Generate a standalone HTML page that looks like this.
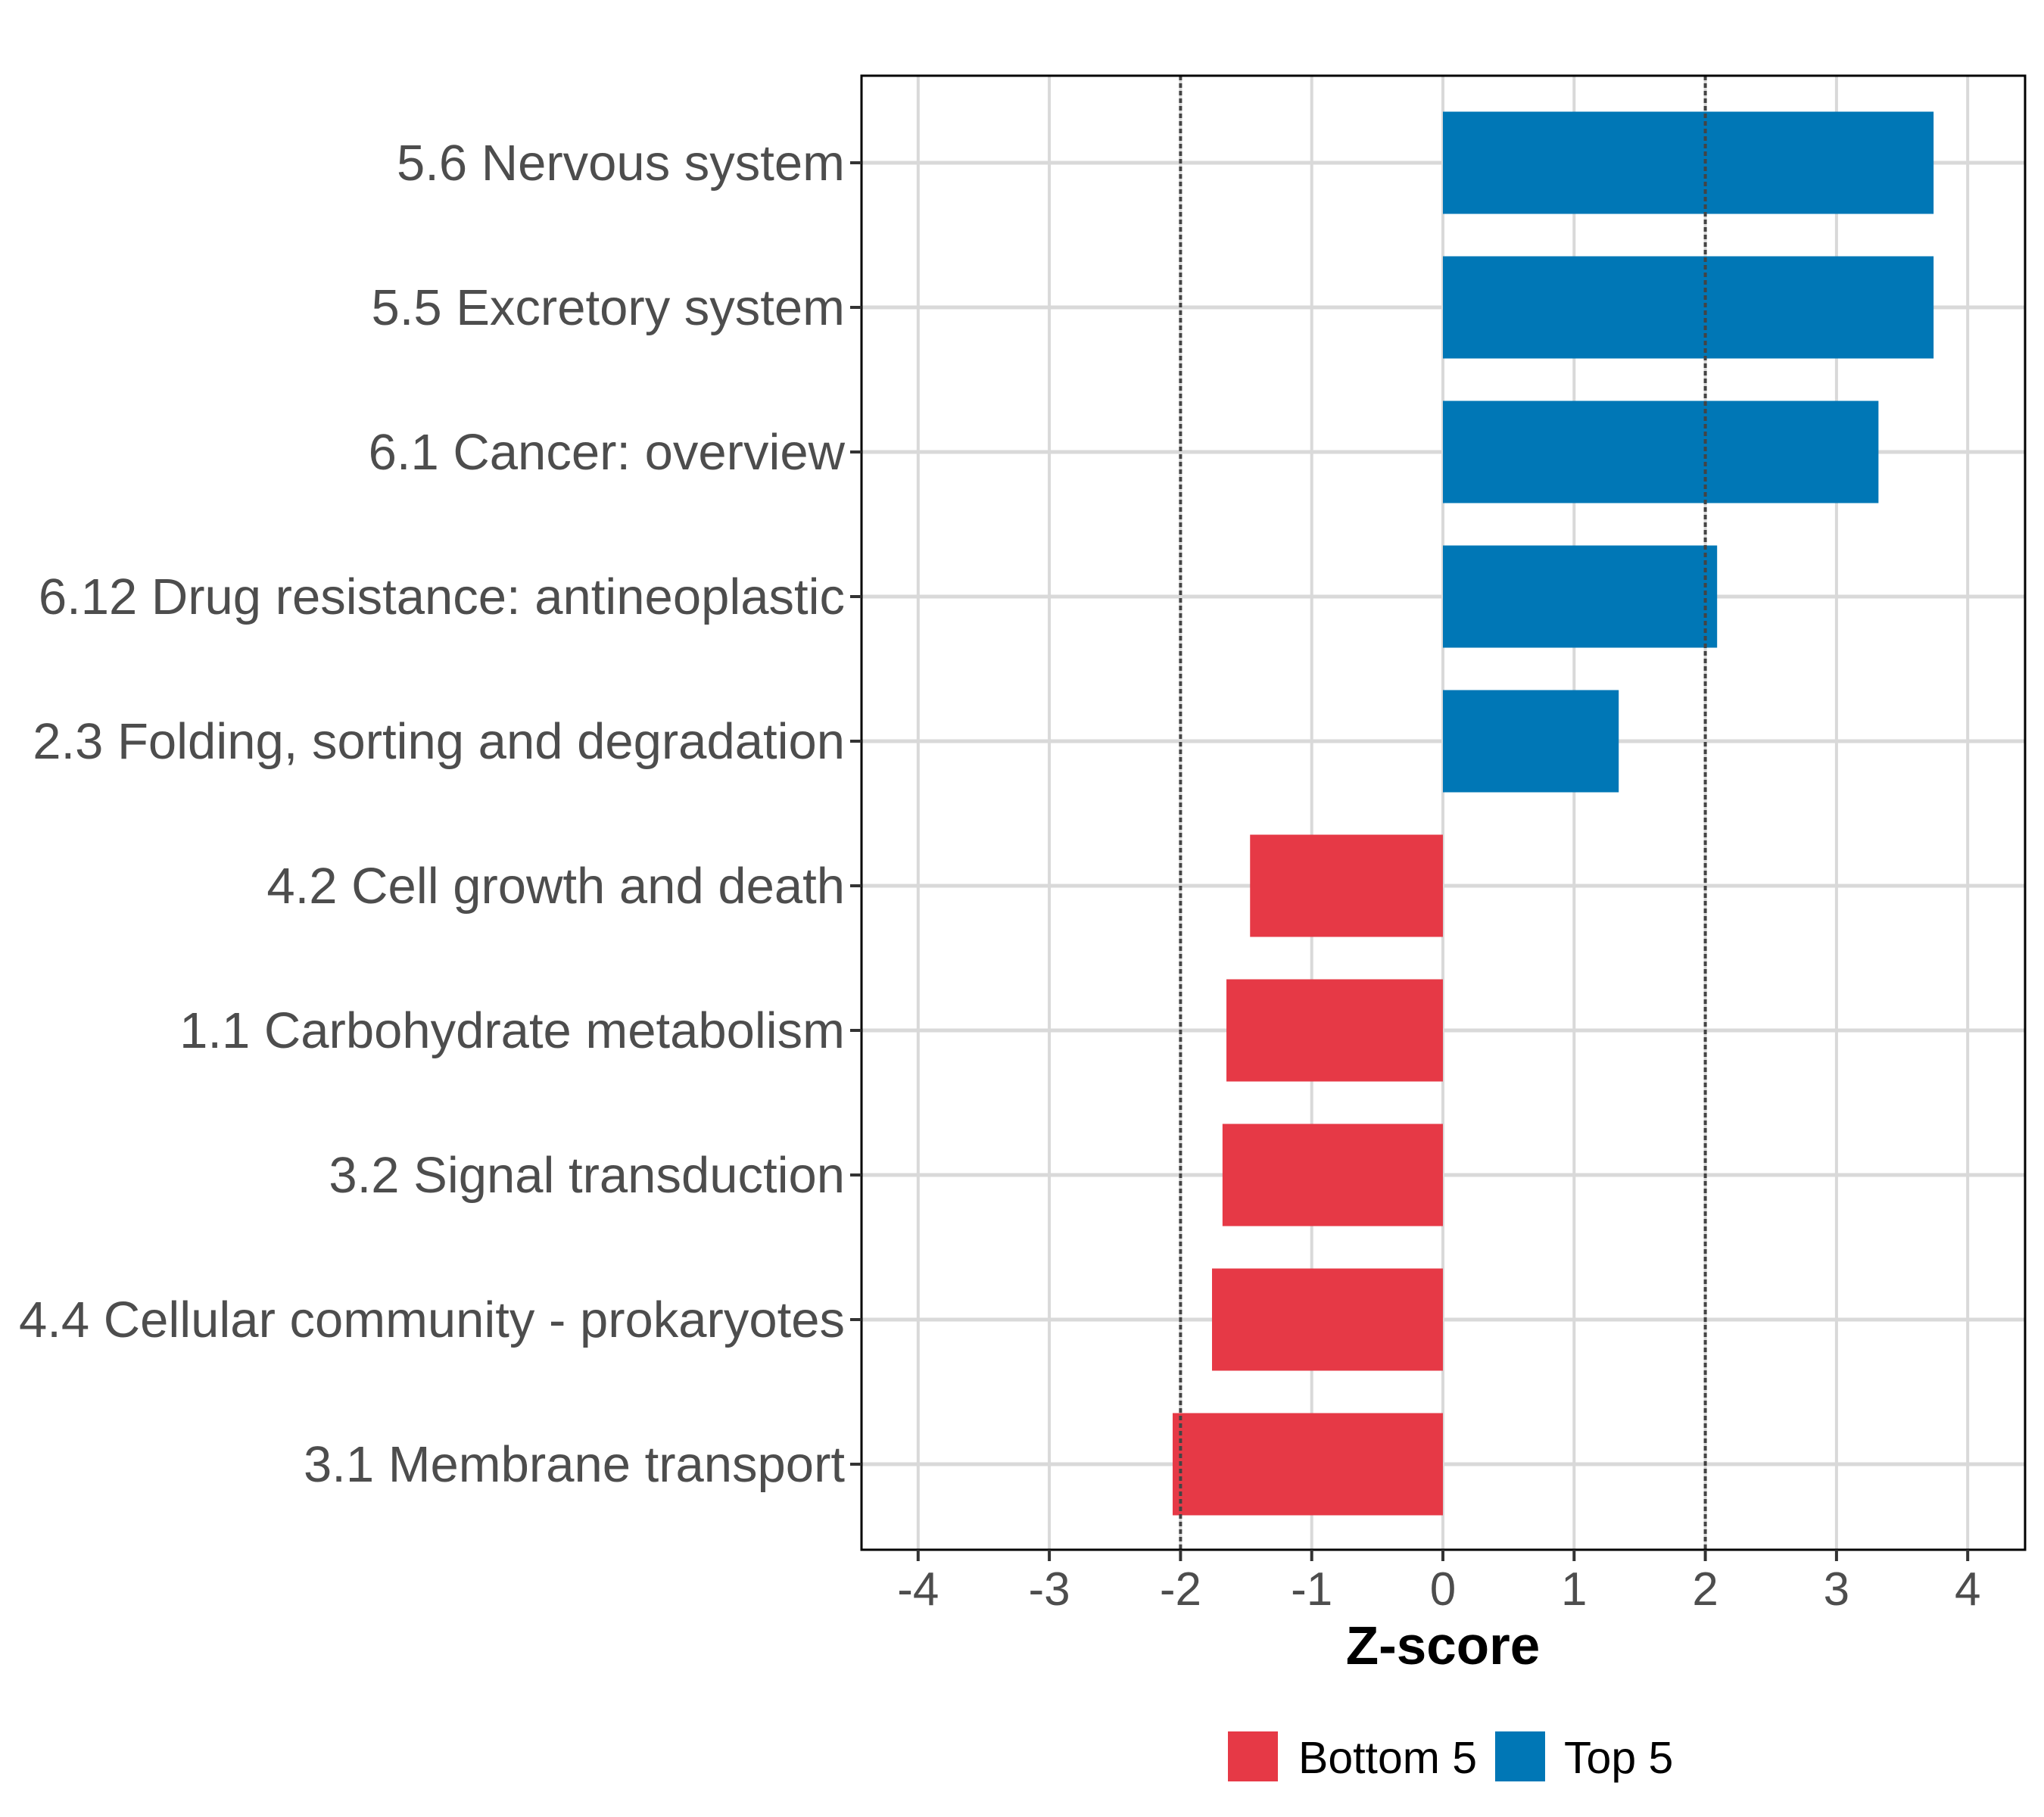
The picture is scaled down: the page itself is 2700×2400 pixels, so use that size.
<!DOCTYPE html>
<html><head><meta charset="utf-8"><style>
html,body{margin:0;padding:0;background:#fff}
svg{display:block}
text{font-family:"Liberation Sans",Arial,sans-serif}
</style></head><body>
<svg id="chart" width="2700" height="2400" viewBox="0 0 2700 2400" xmlns="http://www.w3.org/2000/svg">
<rect width="2700" height="2400" fill="#fff"/>
<g id="grid"></g>
<g id="bars"></g>
<g id="refs"></g>
<rect x="1138" y="100" width="1537" height="1947" fill="none" stroke="#000" stroke-width="3"/>
<g id="yaxis"></g>
<g id="xaxis"></g>
<text x="1906" y="2198" text-anchor="middle" font-size="71" font-weight="bold" fill="#000">Z-score</text>
<g>
<rect x="1622" y="2287" width="66" height="66" fill="#e63946"/>
<text x="1715" y="2342" font-size="59" fill="#000">Bottom 5</text>
<rect x="1975" y="2287" width="66" height="66" fill="#0077b6"/>
<text x="2066" y="2342" font-size="59" fill="#000">Top 5</text>
</g>
</svg>
<script>
const categories = ["5.6 Nervous system","5.5 Excretory system","6.1 Cancer: overview","6.12 Drug resistance: antineoplastic","2.3 Folding, sorting and degradation","4.2 Cell growth and death","1.1 Carbohydrate metabolism","3.2 Signal transduction","4.4 Cellular community - prokaryotes","3.1 Membrane transport"];
const zscores = [3.74,3.74,3.32,2.09,1.34,-1.47,-1.65,-1.68,-1.76,-2.06];
const groups = ["Top 5","Top 5","Top 5","Top 5","Top 5","Bottom 5","Bottom 5","Bottom 5","Bottom 5","Bottom 5"];
const xTicks = [-4,-3,-2,-1,0,1,2,3,4];
const xTickLabels = ["-4","-3","-2","-1","0","1","2","3","4"];
const refLines = [-2,2];

const NS="http://www.w3.org/2000/svg";
const plotL=1138,plotR=2675,plotT=100,plotB=2047;
function xS(v){return 1906+v*173.3;}
function yS(i){return 215+i*191;}
const barH=135;
function mk(tag,attrs,parent){const e=document.createElementNS(NS,tag);for(const k in attrs)e.setAttribute(k,attrs[k]);parent.appendChild(e);return e;}
const grid=document.getElementById('grid'),bars=document.getElementById('bars'),refs=document.getElementById('refs'),yaxis=document.getElementById('yaxis'),xaxis=document.getElementById('xaxis');
xTicks.forEach((t,i)=>{
  const l=mk('line',{x1:xS(t),x2:xS(t),y1:plotT,y2:plotB,stroke:'#d9d9d9','stroke-width':4},grid);
  
  
  const tk=mk('line',{x1:xS(t),x2:xS(t),y1:plotB,y2:plotB+15,stroke:'#333','stroke-width':4},xaxis);
  
  
  const tx=mk('text',{x:xS(t),y:2120,'text-anchor':'middle','font-size':62,fill:'#4d4d4d'},xaxis);
  tx.textContent=xTickLabels[i];
  
  
});
categories.forEach((c,i)=>{
  const g=mk('line',{x1:plotL,x2:plotR,y1:yS(i),y2:yS(i),stroke:'#d9d9d9','stroke-width':5},grid);
  
  
  const v=zscores[i];
  const x0=Math.min(xS(0),xS(v)),w=Math.abs(xS(v)-xS(0));
  const b=mk('rect',{x:x0,y:yS(i)-barH/2,width:w,height:barH,fill:groups[i]==='Top 5'?'#0077b6':'#e63946'},bars);
  
  
  const tk=mk('line',{x1:plotL-15,x2:plotL,y1:yS(i),y2:yS(i),stroke:'#333','stroke-width':4},yaxis);
  
  
  const tx=mk('text',{x:1116,y:yS(i)+23,'text-anchor':'end','font-size':67,fill:'#4d4d4d'},yaxis);
  tx.textContent=c;
  
  
});
refLines.forEach(r=>{
  const l=mk('line',{x1:xS(r),x2:xS(r),y1:plotT,y2:plotB,stroke:'#444','stroke-width':4,'stroke-dasharray':'6 4'},refs);
  
  
});
</script>
</body></html>
